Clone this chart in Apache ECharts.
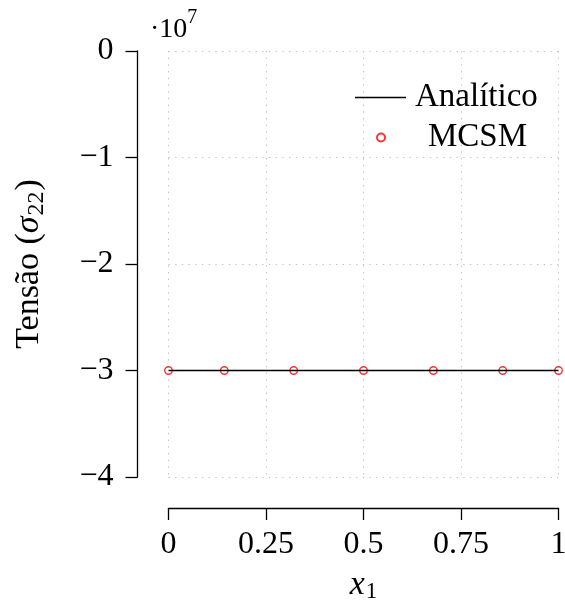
<!DOCTYPE html>
<html><head><meta charset="utf-8">
<script src="https://cdn.jsdelivr.net/npm/echarts@6/dist/echarts.min.js"></script>
<style>html,body{margin:0;padding:0;background:#fff}#c{width:565px;height:601px}</style>
</head><body><div id="c"></div>
<script>
// Data
const xTickLabels = ['0', '0.25', '0.5', '0.75', '1'];
const yTickLabels = ['0', '−1', '−2', '−3', '−4'];
const analyticX = [0, 1];
const analyticY = [-3e7, -3e7];
const mcsmX = [0, 0.143, 0.321, 0.5, 0.679, 0.857, 1];
const mcsmY = [-3e7, -3e7, -3e7, -3e7, -3e7, -3e7, -3e7];

const FONT = 'Liberation Serif';
const FS = 32;
const chart = echarts.init(document.getElementById('c'), null, {renderer: 'canvas'});
const gridStyle = {show: true, lineStyle: {color: '#bfbfbf', width: 1, type: [1.3, 5.4]}};
const axisLineStyle = {color: '#000', width: 1.3};

const option = {
  backgroundColor: '#fff',
  animation: false,
  grid: {left: 168.5, top: 51, width: 390, height: 426, containLabel: false, outerBoundsMode: 'none'},
  xAxis: {
    type: 'value', min: 0, max: 1, interval: 0.25, offset: 31,
    axisLine: {show: true, onZero: false, lineStyle: axisLineStyle},
    axisTick: {show: true, inside: false, length: 12, lineStyle: axisLineStyle},
    axisLabel: {margin: 21, color: '#000', fontFamily: FONT, fontSize: FS,
      formatter: (v) => xTickLabels[Math.round(v / 0.25)]},
    splitLine: gridStyle,
    name: '{i|x}{s|1}', nameLocation: 'middle', nameGap: 57,
    nameTextStyle: {color: '#000', rich: {
      i: {fontFamily: FONT, fontStyle: 'italic', fontSize: 34, lineHeight: 40, verticalAlign: 'middle', color: '#000'},
      s: {fontFamily: FONT, fontSize: 23, lineHeight: 40, verticalAlign: 'bottom', color: '#000', padding: [0,0,2,1]}
    }}
  },
  yAxis: {
    type: 'value', min: -4e7, max: 0, interval: 1e7, offset: 31,
    axisLine: {show: true, onZero: false, lineStyle: axisLineStyle},
    axisTick: {show: true, inside: false, length: 12, lineStyle: axisLineStyle},
    axisLabel: {margin: 24, color: '#000', fontFamily: FONT, fontSize: FS,
      formatter: (v) => yTickLabels[Math.round(-v / 1e7)]},
    splitLine: gridStyle,
    name: '{n|Tensão (}{g|σ}{s|22}{n|)}', nameLocation: 'middle', nameRotate: 90, nameGap: 87,
    nameTextStyle: {color: '#000', rich: {
      n: {fontFamily: FONT, fontSize: 34, lineHeight: 42, verticalAlign: 'middle', color: '#000'},
      g: {fontFamily: FONT, fontStyle: 'italic', fontSize: 34, lineHeight: 42, verticalAlign: 'middle', color: '#000'},
      s: {fontFamily: FONT, fontSize: 24, lineHeight: 42, verticalAlign: 'bottom', color: '#000', padding: [0,1,2,1]}
    }}
  },
  legend: [
    {data: ['Analítico'], left: 355, top: 81, padding: 0, icon: 'rect', itemWidth: 51, itemHeight: 1.3,
      itemStyle: {color: '#000'},
      textStyle: {fontFamily: FONT, fontSize: 33, color: '#000', padding: [0,0,0,4]}},
    {data: ['MCSM'], left: 376, top: 121, padding: 0, itemWidth: 8, itemHeight: 8,
      textStyle: {fontFamily: FONT, fontSize: 33, color: '#000', padding: [0,0,0,38]}}
  ],
  graphic: [{
    type: 'text', left: 150, top: 8,
    style: {text: '{a|·10}{b|7}', rich: {
      a: {fontFamily: FONT, fontSize: 28, lineHeight: 36, verticalAlign: 'bottom', fill: '#000'},
      b: {fontFamily: FONT, fontSize: 20, lineHeight: 36, verticalAlign: 'top', fill: '#000'}
    }}
  }],
  series: [
    {name: 'Analítico', type: 'line', data: analyticX.map((x, i) => [x, analyticY[i]]),
      symbol: 'none', lineStyle: {color: '#000', width: 1.3}, itemStyle: {color: '#000'}},
    {name: 'MCSM', type: 'scatter', data: mcsmX.map((x, i) => [x, mcsmY[i]]),
      symbol: 'circle', symbolSize: 7.5,
      itemStyle: {color: '#fff', borderColor: '#ff0000', borderWidth: 1.4}}
  ]
};
chart.setOption(option);
</script></body></html>
